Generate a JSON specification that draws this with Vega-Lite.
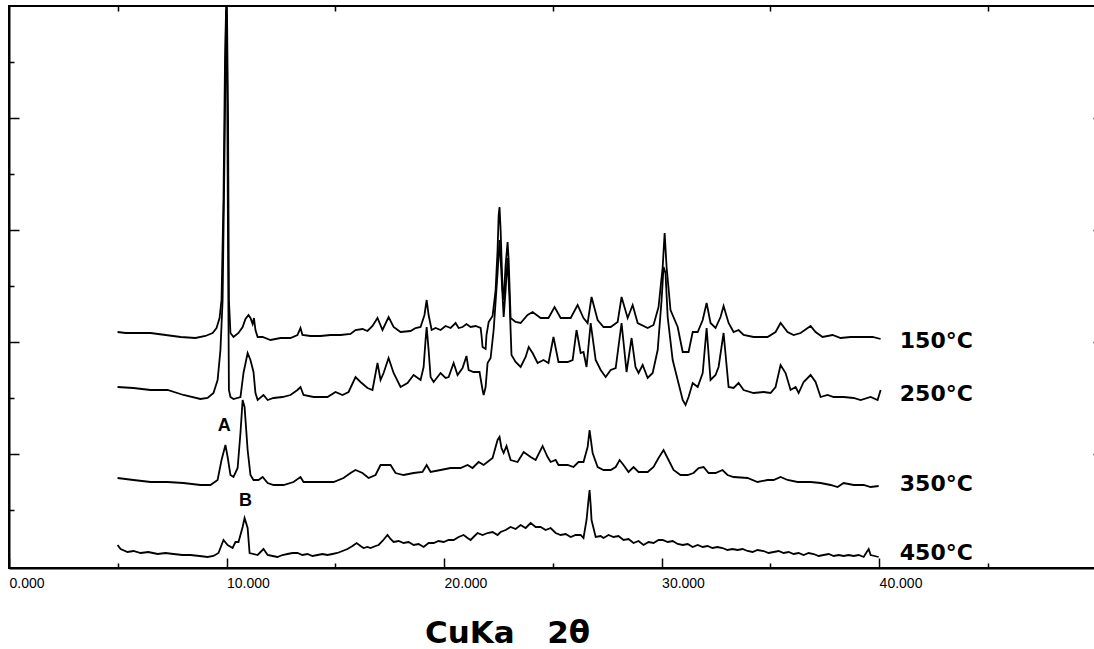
{
"$schema": "https://vega.github.io/schema/vega-lite/v6.json",
"width": 1092, "height": 562,
"autosize": {"type": "none"},
"padding": {"left": 9, "top": 6, "right": 0, "bottom": 81},
"background": "white",
"config": {"view": {"stroke": "black", "strokeWidth": 2}, "axis": {"domainColor": "black", "tickColor": "black", "labelColor": "black", "titleColor": "black", "grid": false}},
"datasets": {
"traces": [
{"temp":"150","two_theta":4.99,"intensity":236},{"temp":"150","two_theta":5.36,"intensity":235},{"temp":"150","two_theta":5.82,"intensity":235},{"temp":"150","two_theta":6.51,"intensity":235},{"temp":"150","two_theta":7.20,"intensity":233},{"temp":"150","two_theta":7.89,"intensity":231},{"temp":"150","two_theta":8.57,"intensity":230},{"temp":"150","two_theta":9.03,"intensity":232},{"temp":"150","two_theta":9.36,"intensity":235},{"temp":"150","two_theta":9.54,"intensity":240},{"temp":"150","two_theta":9.68,"intensity":250},{"temp":"150","two_theta":9.77,"intensity":268},{"temp":"150","two_theta":9.86,"intensity":368},{"temp":"150","two_theta":9.93,"intensity":508},{"temp":"150","two_theta":9.98,"intensity":560},{"temp":"150","two_theta":10.02,"intensity":560},{"temp":"150","two_theta":10.07,"intensity":448},{"temp":"150","two_theta":10.11,"intensity":268},{"temp":"150","two_theta":10.18,"intensity":235},{"temp":"150","two_theta":10.32,"intensity":231},{"temp":"150","two_theta":10.55,"intensity":235},{"temp":"150","two_theta":10.74,"intensity":241},{"temp":"150","two_theta":10.87,"intensity":249},{"temp":"150","two_theta":11.01,"intensity":253},{"temp":"150","two_theta":11.10,"intensity":250},{"temp":"150","two_theta":11.20,"intensity":244},{"temp":"150","two_theta":11.26,"intensity":250},{"temp":"150","two_theta":11.33,"intensity":238},{"temp":"150","two_theta":11.43,"intensity":231},{"temp":"150","two_theta":11.66,"intensity":231},{"temp":"150","two_theta":12.02,"intensity":228},{"temp":"150","two_theta":12.48,"intensity":230},{"temp":"150","two_theta":12.94,"intensity":230},{"temp":"150","two_theta":13.26,"intensity":233},{"temp":"150","two_theta":13.40,"intensity":240},{"temp":"150","two_theta":13.49,"intensity":233},{"temp":"150","two_theta":13.86,"intensity":232},{"temp":"150","two_theta":14.32,"intensity":232},{"temp":"150","two_theta":14.78,"intensity":233},{"temp":"150","two_theta":15.24,"intensity":233},{"temp":"150","two_theta":15.70,"intensity":234},{"temp":"150","two_theta":15.93,"intensity":238},{"temp":"150","two_theta":16.25,"intensity":239},{"temp":"150","two_theta":16.48,"intensity":237},{"temp":"150","two_theta":16.71,"intensity":242},{"temp":"150","two_theta":16.94,"intensity":250},{"temp":"150","two_theta":17.17,"intensity":238},{"temp":"150","two_theta":17.45,"intensity":251},{"temp":"150","two_theta":17.68,"intensity":241},{"temp":"150","two_theta":18.00,"intensity":236},{"temp":"150","two_theta":18.46,"intensity":237},{"temp":"150","two_theta":18.69,"intensity":240},{"temp":"150","two_theta":18.92,"intensity":241},{"temp":"150","two_theta":19.10,"intensity":253},{"temp":"150","two_theta":19.20,"intensity":268},{"temp":"150","two_theta":19.29,"intensity":253},{"temp":"150","two_theta":19.43,"intensity":238},{"temp":"150","two_theta":19.61,"intensity":240},{"temp":"150","two_theta":19.84,"intensity":238},{"temp":"150","two_theta":20.07,"intensity":242},{"temp":"150","two_theta":20.30,"intensity":240},{"temp":"150","two_theta":20.53,"intensity":245},{"temp":"150","two_theta":20.67,"intensity":240},{"temp":"150","two_theta":20.85,"intensity":241},{"temp":"150","two_theta":21.03,"intensity":244},{"temp":"150","two_theta":21.22,"intensity":241},{"temp":"150","two_theta":21.45,"intensity":242},{"temp":"150","two_theta":21.68,"intensity":240},{"temp":"150","two_theta":21.72,"intensity":233},{"temp":"150","two_theta":21.77,"intensity":221},{"temp":"150","two_theta":21.91,"intensity":219},{"temp":"150","two_theta":21.95,"intensity":233},{"temp":"150","two_theta":22.05,"intensity":246},{"temp":"150","two_theta":22.23,"intensity":252},{"temp":"150","two_theta":22.37,"intensity":278},{"temp":"150","two_theta":22.46,"intensity":318},{"temp":"150","two_theta":22.51,"intensity":353},{"temp":"150","two_theta":22.55,"intensity":361},{"temp":"150","two_theta":22.60,"intensity":338},{"temp":"150","two_theta":22.69,"intensity":278},{"temp":"150","two_theta":22.74,"intensity":268},{"temp":"150","two_theta":22.83,"intensity":303},{"temp":"150","two_theta":22.92,"intensity":326},{"temp":"150","two_theta":22.97,"intensity":308},{"temp":"150","two_theta":23.06,"intensity":250},{"temp":"150","two_theta":23.29,"intensity":246},{"temp":"150","two_theta":23.52,"intensity":245},{"temp":"150","two_theta":23.84,"intensity":253},{"temp":"150","two_theta":24.07,"intensity":256},{"temp":"150","two_theta":24.44,"intensity":250},{"temp":"150","two_theta":24.80,"intensity":250},{"temp":"150","two_theta":25.08,"intensity":261},{"temp":"150","two_theta":25.36,"intensity":250},{"temp":"150","two_theta":25.82,"intensity":250},{"temp":"150","two_theta":26.14,"intensity":263},{"temp":"150","two_theta":26.41,"intensity":250},{"temp":"150","two_theta":26.60,"intensity":245},{"temp":"150","two_theta":26.78,"intensity":271},{"temp":"150","two_theta":27.06,"intensity":248},{"temp":"150","two_theta":27.33,"intensity":241},{"temp":"150","two_theta":27.66,"intensity":241},{"temp":"150","two_theta":27.98,"intensity":246},{"temp":"150","two_theta":28.16,"intensity":271},{"temp":"150","two_theta":28.44,"intensity":250},{"temp":"150","two_theta":28.67,"intensity":263},{"temp":"150","two_theta":28.90,"intensity":245},{"temp":"150","two_theta":29.36,"intensity":240},{"temp":"150","two_theta":29.63,"intensity":243},{"temp":"150","two_theta":29.86,"intensity":261},{"temp":"150","two_theta":30.05,"intensity":301},{"temp":"150","two_theta":30.14,"intensity":335},{"temp":"150","two_theta":30.23,"intensity":301},{"temp":"150","two_theta":30.41,"intensity":258},{"temp":"150","two_theta":30.74,"intensity":241},{"temp":"150","two_theta":30.97,"intensity":216},{"temp":"150","two_theta":31.24,"intensity":216},{"temp":"150","two_theta":31.43,"intensity":236},{"temp":"150","two_theta":31.66,"intensity":236},{"temp":"150","two_theta":31.89,"intensity":248},{"temp":"150","two_theta":32.07,"intensity":265},{"temp":"150","two_theta":32.25,"intensity":245},{"temp":"150","two_theta":32.48,"intensity":240},{"temp":"150","two_theta":32.71,"intensity":251},{"temp":"150","two_theta":32.85,"intensity":262},{"temp":"150","two_theta":33.08,"intensity":245},{"temp":"150","two_theta":33.31,"intensity":236},{"temp":"150","two_theta":33.54,"intensity":238},{"temp":"150","two_theta":33.77,"intensity":233},{"temp":"150","two_theta":34.23,"intensity":231},{"temp":"150","two_theta":34.87,"intensity":231},{"temp":"150","two_theta":35.24,"intensity":236},{"temp":"150","two_theta":35.47,"intensity":245},{"temp":"150","two_theta":35.79,"intensity":236},{"temp":"150","two_theta":36.07,"intensity":233},{"temp":"150","two_theta":36.39,"intensity":235},{"temp":"150","two_theta":36.85,"intensity":242},{"temp":"150","two_theta":37.08,"intensity":236},{"temp":"150","two_theta":37.40,"intensity":231},{"temp":"150","two_theta":37.86,"intensity":233},{"temp":"150","two_theta":38.23,"intensity":230},{"temp":"150","two_theta":38.69,"intensity":231},{"temp":"150","two_theta":39.15,"intensity":231},{"temp":"150","two_theta":39.70,"intensity":231},{"temp":"150","two_theta":40.07,"intensity":229},
{"temp":"250","two_theta":4.99,"intensity":181},{"temp":"250","two_theta":5.72,"intensity":180},{"temp":"250","two_theta":6.51,"intensity":178},{"temp":"250","two_theta":7.29,"intensity":178},{"temp":"250","two_theta":8.02,"intensity":173},{"temp":"250","two_theta":8.80,"intensity":169},{"temp":"250","two_theta":9.13,"intensity":170},{"temp":"250","two_theta":9.40,"intensity":175},{"temp":"250","two_theta":9.59,"intensity":188},{"temp":"250","two_theta":9.72,"intensity":218},{"temp":"250","two_theta":9.82,"intensity":268},{"temp":"250","two_theta":9.91,"intensity":418},{"temp":"250","two_theta":9.98,"intensity":558},{"temp":"250","two_theta":10.02,"intensity":528},{"temp":"250","two_theta":10.07,"intensity":318},{"temp":"250","two_theta":10.11,"intensity":178},{"temp":"250","two_theta":10.18,"intensity":171},{"temp":"250","two_theta":10.32,"intensity":169},{"temp":"250","two_theta":10.64,"intensity":171},{"temp":"250","two_theta":10.78,"intensity":195},{"temp":"250","two_theta":10.97,"intensity":215},{"temp":"250","two_theta":11.10,"intensity":208},{"temp":"250","two_theta":11.24,"intensity":196},{"temp":"250","two_theta":11.33,"intensity":175},{"temp":"250","two_theta":11.43,"intensity":168},{"temp":"250","two_theta":11.70,"intensity":173},{"temp":"250","two_theta":11.89,"intensity":168},{"temp":"250","two_theta":12.16,"intensity":170},{"temp":"250","two_theta":12.57,"intensity":171},{"temp":"250","two_theta":12.94,"intensity":173},{"temp":"250","two_theta":13.26,"intensity":178},{"temp":"250","two_theta":13.40,"intensity":181},{"temp":"250","two_theta":13.54,"intensity":173},{"temp":"250","two_theta":14.00,"intensity":171},{"temp":"250","two_theta":14.64,"intensity":171},{"temp":"250","two_theta":15.01,"intensity":176},{"temp":"250","two_theta":15.33,"intensity":173},{"temp":"250","two_theta":15.61,"intensity":176},{"temp":"250","two_theta":15.93,"intensity":191},{"temp":"250","two_theta":16.16,"intensity":186},{"temp":"250","two_theta":16.48,"intensity":180},{"temp":"250","two_theta":16.71,"intensity":178},{"temp":"250","two_theta":16.94,"intensity":205},{"temp":"250","two_theta":17.08,"intensity":188},{"temp":"250","two_theta":17.22,"intensity":195},{"temp":"250","two_theta":17.45,"intensity":210},{"temp":"250","two_theta":17.68,"intensity":195},{"temp":"250","two_theta":18.00,"intensity":181},{"temp":"250","two_theta":18.32,"intensity":185},{"temp":"250","two_theta":18.60,"intensity":193},{"temp":"250","two_theta":18.92,"intensity":188},{"temp":"250","two_theta":19.06,"intensity":201},{"temp":"250","two_theta":19.15,"intensity":228},{"temp":"250","two_theta":19.20,"intensity":241},{"temp":"250","two_theta":19.29,"intensity":218},{"temp":"250","two_theta":19.38,"intensity":191},{"temp":"250","two_theta":19.52,"intensity":186},{"temp":"250","two_theta":19.84,"intensity":195},{"temp":"250","two_theta":20.07,"intensity":190},{"temp":"250","two_theta":20.21,"intensity":191},{"temp":"250","two_theta":20.44,"intensity":205},{"temp":"250","two_theta":20.62,"intensity":193},{"temp":"250","two_theta":20.85,"intensity":200},{"temp":"250","two_theta":21.03,"intensity":212},{"temp":"250","two_theta":21.13,"intensity":198},{"temp":"250","two_theta":21.36,"intensity":196},{"temp":"250","two_theta":21.63,"intensity":196},{"temp":"250","two_theta":21.77,"intensity":178},{"temp":"250","two_theta":21.82,"intensity":173},{"temp":"250","two_theta":21.91,"intensity":181},{"temp":"250","two_theta":22.00,"intensity":205},{"temp":"250","two_theta":22.14,"intensity":210},{"temp":"250","two_theta":22.28,"intensity":238},{"temp":"250","two_theta":22.46,"intensity":295},{"temp":"250","two_theta":22.55,"intensity":328},{"temp":"250","two_theta":22.64,"intensity":293},{"temp":"250","two_theta":22.74,"intensity":251},{"temp":"250","two_theta":22.83,"intensity":278},{"temp":"250","two_theta":22.92,"intensity":310},{"temp":"250","two_theta":23.01,"intensity":268},{"temp":"250","two_theta":23.10,"intensity":213},{"temp":"250","two_theta":23.29,"intensity":206},{"temp":"250","two_theta":23.52,"intensity":201},{"temp":"250","two_theta":23.75,"intensity":211},{"temp":"250","two_theta":23.89,"intensity":221},{"temp":"250","two_theta":24.07,"intensity":215},{"temp":"250","two_theta":24.30,"intensity":205},{"temp":"250","two_theta":24.57,"intensity":208},{"temp":"250","two_theta":24.80,"intensity":205},{"temp":"250","two_theta":25.03,"intensity":231},{"temp":"250","two_theta":25.26,"intensity":206},{"temp":"250","two_theta":25.68,"intensity":206},{"temp":"250","two_theta":25.91,"intensity":208},{"temp":"250","two_theta":26.09,"intensity":238},{"temp":"250","two_theta":26.28,"intensity":215},{"temp":"250","two_theta":26.41,"intensity":216},{"temp":"250","two_theta":26.55,"intensity":201},{"temp":"250","two_theta":26.74,"intensity":245},{"temp":"250","two_theta":26.97,"intensity":208},{"temp":"250","two_theta":27.20,"intensity":198},{"temp":"250","two_theta":27.43,"intensity":191},{"temp":"250","two_theta":27.66,"intensity":198},{"temp":"250","two_theta":27.89,"intensity":200},{"temp":"250","two_theta":28.16,"intensity":245},{"temp":"250","two_theta":28.39,"intensity":196},{"temp":"250","two_theta":28.62,"intensity":230},{"temp":"250","two_theta":28.80,"intensity":201},{"temp":"250","two_theta":28.94,"intensity":195},{"temp":"250","two_theta":29.13,"intensity":203},{"temp":"250","two_theta":29.36,"intensity":190},{"temp":"250","two_theta":29.59,"intensity":195},{"temp":"250","two_theta":29.82,"intensity":218},{"temp":"250","two_theta":30.00,"intensity":268},{"temp":"250","two_theta":30.09,"intensity":301},{"temp":"250","two_theta":30.18,"intensity":295},{"temp":"250","two_theta":30.28,"intensity":251},{"temp":"250","two_theta":30.51,"intensity":208},{"temp":"250","two_theta":30.74,"intensity":188},{"temp":"250","two_theta":30.97,"intensity":168},{"temp":"250","two_theta":31.10,"intensity":163},{"temp":"250","two_theta":31.24,"intensity":171},{"temp":"250","two_theta":31.43,"intensity":185},{"temp":"250","two_theta":31.66,"intensity":181},{"temp":"250","two_theta":31.89,"intensity":195},{"temp":"250","two_theta":32.07,"intensity":240},{"temp":"250","two_theta":32.25,"intensity":188},{"temp":"250","two_theta":32.48,"intensity":193},{"temp":"250","two_theta":32.62,"intensity":201},{"temp":"250","two_theta":32.85,"intensity":235},{"temp":"250","two_theta":33.08,"intensity":181},{"temp":"250","two_theta":33.31,"intensity":180},{"temp":"250","two_theta":33.54,"intensity":185},{"temp":"250","two_theta":33.77,"intensity":178},{"temp":"250","two_theta":34.23,"intensity":175},{"temp":"250","two_theta":34.69,"intensity":176},{"temp":"250","two_theta":35.01,"intensity":175},{"temp":"250","two_theta":35.24,"intensity":181},{"temp":"250","two_theta":35.47,"intensity":203},{"temp":"250","two_theta":35.70,"intensity":195},{"temp":"250","two_theta":35.93,"intensity":178},{"temp":"250","two_theta":36.16,"intensity":181},{"temp":"250","two_theta":36.30,"intensity":175},{"temp":"250","two_theta":36.53,"intensity":186},{"temp":"250","two_theta":36.85,"intensity":193},{"temp":"250","two_theta":37.08,"intensity":186},{"temp":"250","two_theta":37.31,"intensity":171},{"temp":"250","two_theta":37.63,"intensity":173},{"temp":"250","two_theta":37.91,"intensity":171},{"temp":"250","two_theta":38.37,"intensity":171},{"temp":"250","two_theta":38.83,"intensity":170},{"temp":"250","two_theta":39.15,"intensity":168},{"temp":"250","two_theta":39.61,"intensity":171},{"temp":"250","two_theta":39.93,"intensity":168},{"temp":"250","two_theta":40.07,"intensity":178},
{"temp":"350","two_theta":4.99,"intensity":90},{"temp":"350","two_theta":5.72,"intensity":88},{"temp":"350","two_theta":6.51,"intensity":86},{"temp":"350","two_theta":7.29,"intensity":86},{"temp":"350","two_theta":8.02,"intensity":85},{"temp":"350","two_theta":8.80,"intensity":83},{"temp":"350","two_theta":9.26,"intensity":83},{"temp":"350","two_theta":9.59,"intensity":88},{"temp":"350","two_theta":9.77,"intensity":108},{"temp":"350","two_theta":9.95,"intensity":123},{"temp":"350","two_theta":10.05,"intensity":111},{"temp":"350","two_theta":10.18,"intensity":93},{"temp":"350","two_theta":10.32,"intensity":91},{"temp":"350","two_theta":10.51,"intensity":100},{"temp":"350","two_theta":10.64,"intensity":135},{"temp":"350","two_theta":10.74,"intensity":168},{"temp":"350","two_theta":10.83,"intensity":161},{"temp":"350","two_theta":10.97,"intensity":118},{"temp":"350","two_theta":11.10,"intensity":93},{"temp":"350","two_theta":11.24,"intensity":88},{"temp":"350","two_theta":11.47,"intensity":88},{"temp":"350","two_theta":11.66,"intensity":91},{"temp":"350","two_theta":11.89,"intensity":85},{"temp":"350","two_theta":12.16,"intensity":83},{"temp":"350","two_theta":12.62,"intensity":83},{"temp":"350","two_theta":13.08,"intensity":86},{"temp":"350","two_theta":13.40,"intensity":91},{"temp":"350","two_theta":13.54,"intensity":86},{"temp":"350","two_theta":14.18,"intensity":86},{"temp":"350","two_theta":14.92,"intensity":86},{"temp":"350","two_theta":15.38,"intensity":90},{"temp":"350","two_theta":15.70,"intensity":95},{"temp":"350","two_theta":15.93,"intensity":98},{"temp":"350","two_theta":16.25,"intensity":95},{"temp":"350","two_theta":16.53,"intensity":90},{"temp":"350","two_theta":16.85,"intensity":93},{"temp":"350","two_theta":17.08,"intensity":103},{"temp":"350","two_theta":17.54,"intensity":103},{"temp":"350","two_theta":17.77,"intensity":95},{"temp":"350","two_theta":18.14,"intensity":93},{"temp":"350","two_theta":18.60,"intensity":95},{"temp":"350","two_theta":19.01,"intensity":96},{"temp":"350","two_theta":19.20,"intensity":103},{"temp":"350","two_theta":19.38,"intensity":96},{"temp":"350","two_theta":19.84,"intensity":98},{"temp":"350","two_theta":20.30,"intensity":100},{"temp":"350","two_theta":20.76,"intensity":100},{"temp":"350","two_theta":21.08,"intensity":103},{"temp":"350","two_theta":21.31,"intensity":100},{"temp":"350","two_theta":21.59,"intensity":106},{"temp":"350","two_theta":21.82,"intensity":103},{"temp":"350","two_theta":22.23,"intensity":110},{"temp":"350","two_theta":22.46,"intensity":128},{"temp":"350","two_theta":22.55,"intensity":131},{"temp":"350","two_theta":22.64,"intensity":120},{"temp":"350","two_theta":22.74,"intensity":115},{"temp":"350","two_theta":22.87,"intensity":122},{"temp":"350","two_theta":23.06,"intensity":108},{"temp":"350","two_theta":23.38,"intensity":106},{"temp":"350","two_theta":23.66,"intensity":116},{"temp":"350","two_theta":23.98,"intensity":111},{"temp":"350","two_theta":24.21,"intensity":108},{"temp":"350","two_theta":24.53,"intensity":122},{"temp":"350","two_theta":24.76,"intensity":111},{"temp":"350","two_theta":24.90,"intensity":106},{"temp":"350","two_theta":25.13,"intensity":108},{"temp":"350","two_theta":25.26,"intensity":103},{"temp":"350","two_theta":25.68,"intensity":103},{"temp":"350","two_theta":25.95,"intensity":101},{"temp":"350","two_theta":26.18,"intensity":106},{"temp":"350","two_theta":26.41,"intensity":106},{"temp":"350","two_theta":26.60,"intensity":121},{"temp":"350","two_theta":26.69,"intensity":138},{"temp":"350","two_theta":26.83,"intensity":115},{"temp":"350","two_theta":27.06,"intensity":101},{"temp":"350","two_theta":27.33,"intensity":98},{"temp":"350","two_theta":27.66,"intensity":98},{"temp":"350","two_theta":27.89,"intensity":101},{"temp":"350","two_theta":28.07,"intensity":108},{"temp":"350","two_theta":28.25,"intensity":103},{"temp":"350","two_theta":28.48,"intensity":96},{"temp":"350","two_theta":28.71,"intensity":101},{"temp":"350","two_theta":28.94,"intensity":96},{"temp":"350","two_theta":29.36,"intensity":96},{"temp":"350","two_theta":29.63,"intensity":101},{"temp":"350","two_theta":29.86,"intensity":110},{"temp":"350","two_theta":30.09,"intensity":118},{"temp":"350","two_theta":30.32,"intensity":108},{"temp":"350","two_theta":30.55,"intensity":98},{"temp":"350","two_theta":30.87,"intensity":93},{"temp":"350","two_theta":31.20,"intensity":93},{"temp":"350","two_theta":31.47,"intensity":95},{"temp":"350","two_theta":31.70,"intensity":100},{"temp":"350","two_theta":31.93,"intensity":101},{"temp":"350","two_theta":32.16,"intensity":95},{"temp":"350","two_theta":32.48,"intensity":95},{"temp":"350","two_theta":32.80,"intensity":98},{"temp":"350","two_theta":33.03,"intensity":93},{"temp":"350","two_theta":33.31,"intensity":91},{"temp":"350","two_theta":33.95,"intensity":90},{"temp":"350","two_theta":34.41,"intensity":86},{"temp":"350","two_theta":34.87,"intensity":88},{"temp":"350","two_theta":35.15,"intensity":88},{"temp":"350","two_theta":35.47,"intensity":91},{"temp":"350","two_theta":35.79,"intensity":88},{"temp":"350","two_theta":36.25,"intensity":86},{"temp":"350","two_theta":36.85,"intensity":86},{"temp":"350","two_theta":37.31,"intensity":85},{"temp":"350","two_theta":37.77,"intensity":83},{"temp":"350","two_theta":38.09,"intensity":81},{"temp":"350","two_theta":38.37,"intensity":85},{"temp":"350","two_theta":38.83,"intensity":83},{"temp":"350","two_theta":39.29,"intensity":83},{"temp":"350","two_theta":39.61,"intensity":81},{"temp":"350","two_theta":39.98,"intensity":82},
{"temp":"450","two_theta":4.99,"intensity":23},{"temp":"450","two_theta":5.13,"intensity":19},{"temp":"450","two_theta":5.45,"intensity":16},{"temp":"450","two_theta":5.72,"intensity":17},{"temp":"450","two_theta":6.05,"intensity":15},{"temp":"450","two_theta":6.41,"intensity":16},{"temp":"450","two_theta":6.83,"intensity":14},{"temp":"450","two_theta":7.20,"intensity":15},{"temp":"450","two_theta":7.56,"intensity":14},{"temp":"450","two_theta":7.98,"intensity":13},{"temp":"450","two_theta":8.34,"intensity":13},{"temp":"450","two_theta":8.76,"intensity":12},{"temp":"450","two_theta":9.13,"intensity":11},{"temp":"450","two_theta":9.40,"intensity":12},{"temp":"450","two_theta":9.63,"intensity":15},{"temp":"450","two_theta":9.86,"intensity":28},{"temp":"450","two_theta":10.05,"intensity":23},{"temp":"450","two_theta":10.28,"intensity":20},{"temp":"450","two_theta":10.41,"intensity":26},{"temp":"450","two_theta":10.55,"intensity":26},{"temp":"450","two_theta":10.74,"intensity":41},{"temp":"450","two_theta":10.83,"intensity":50},{"temp":"450","two_theta":10.97,"intensity":40},{"temp":"450","two_theta":11.06,"intensity":15},{"temp":"450","two_theta":11.43,"intensity":13},{"temp":"450","two_theta":11.70,"intensity":19},{"temp":"450","two_theta":11.89,"intensity":13},{"temp":"450","two_theta":12.12,"intensity":12},{"temp":"450","two_theta":12.34,"intensity":11},{"temp":"450","two_theta":12.57,"intensity":13},{"temp":"450","two_theta":12.80,"intensity":14},{"temp":"450","two_theta":13.03,"intensity":15},{"temp":"450","two_theta":13.26,"intensity":15},{"temp":"450","two_theta":13.49,"intensity":13},{"temp":"450","two_theta":13.72,"intensity":14},{"temp":"450","two_theta":13.95,"intensity":12},{"temp":"450","two_theta":14.18,"intensity":13},{"temp":"450","two_theta":14.41,"intensity":14},{"temp":"450","two_theta":14.64,"intensity":13},{"temp":"450","two_theta":14.87,"intensity":14},{"temp":"450","two_theta":15.10,"intensity":15},{"temp":"450","two_theta":15.33,"intensity":17},{"temp":"450","two_theta":15.56,"intensity":19},{"temp":"450","two_theta":15.79,"intensity":22},{"temp":"450","two_theta":15.98,"intensity":25},{"temp":"450","two_theta":16.16,"intensity":22},{"temp":"450","two_theta":16.30,"intensity":20},{"temp":"450","two_theta":16.48,"intensity":21},{"temp":"450","two_theta":16.62,"intensity":20},{"temp":"450","two_theta":16.85,"intensity":22},{"temp":"450","two_theta":16.99,"intensity":23},{"temp":"450","two_theta":17.17,"intensity":27},{"temp":"450","two_theta":17.40,"intensity":33},{"temp":"450","two_theta":17.54,"intensity":29},{"temp":"450","two_theta":17.68,"intensity":26},{"temp":"450","two_theta":17.91,"intensity":27},{"temp":"450","two_theta":18.14,"intensity":25},{"temp":"450","two_theta":18.37,"intensity":26},{"temp":"450","two_theta":18.60,"intensity":23},{"temp":"450","two_theta":18.83,"intensity":24},{"temp":"450","two_theta":19.06,"intensity":21},{"temp":"450","two_theta":19.29,"intensity":25},{"temp":"450","two_theta":19.52,"intensity":25},{"temp":"450","two_theta":19.75,"intensity":27},{"temp":"450","two_theta":19.98,"intensity":26},{"temp":"450","two_theta":20.21,"intensity":28},{"temp":"450","two_theta":20.44,"intensity":28},{"temp":"450","two_theta":20.67,"intensity":31},{"temp":"450","two_theta":20.90,"intensity":33},{"temp":"450","two_theta":21.08,"intensity":30},{"temp":"450","two_theta":21.22,"intensity":28},{"temp":"450","two_theta":21.40,"intensity":32},{"temp":"450","two_theta":21.54,"intensity":35},{"temp":"450","two_theta":21.77,"intensity":33},{"temp":"450","two_theta":22.00,"intensity":35},{"temp":"450","two_theta":22.23,"intensity":36},{"temp":"450","two_theta":22.46,"intensity":33},{"temp":"450","two_theta":22.60,"intensity":36},{"temp":"450","two_theta":22.83,"intensity":38},{"temp":"450","two_theta":23.06,"intensity":41},{"temp":"450","two_theta":23.29,"intensity":39},{"temp":"450","two_theta":23.52,"intensity":43},{"temp":"450","two_theta":23.75,"intensity":40},{"temp":"450","two_theta":23.98,"intensity":45},{"temp":"450","two_theta":24.21,"intensity":41},{"temp":"450","two_theta":24.44,"intensity":41},{"temp":"450","two_theta":24.67,"intensity":38},{"temp":"450","two_theta":24.90,"intensity":40},{"temp":"450","two_theta":25.13,"intensity":35},{"temp":"450","two_theta":25.36,"intensity":33},{"temp":"450","two_theta":25.59,"intensity":34},{"temp":"450","two_theta":25.82,"intensity":31},{"temp":"450","two_theta":26.05,"intensity":33},{"temp":"450","two_theta":26.28,"intensity":33},{"temp":"450","two_theta":26.41,"intensity":30},{"temp":"450","two_theta":26.55,"intensity":48},{"temp":"450","two_theta":26.64,"intensity":68},{"temp":"450","two_theta":26.69,"intensity":78},{"temp":"450","two_theta":26.74,"intensity":63},{"temp":"450","two_theta":26.78,"intensity":48},{"temp":"450","two_theta":26.97,"intensity":31},{"temp":"450","two_theta":27.20,"intensity":32},{"temp":"450","two_theta":27.33,"intensity":30},{"temp":"450","two_theta":27.56,"intensity":33},{"temp":"450","two_theta":27.79,"intensity":31},{"temp":"450","two_theta":28.02,"intensity":32},{"temp":"450","two_theta":28.25,"intensity":28},{"temp":"450","two_theta":28.48,"intensity":29},{"temp":"450","two_theta":28.71,"intensity":25},{"temp":"450","two_theta":28.94,"intensity":27},{"temp":"450","two_theta":29.17,"intensity":23},{"temp":"450","two_theta":29.40,"intensity":26},{"temp":"450","two_theta":29.63,"intensity":25},{"temp":"450","two_theta":29.86,"intensity":28},{"temp":"450","two_theta":30.05,"intensity":28},{"temp":"450","two_theta":30.28,"intensity":26},{"temp":"450","two_theta":30.51,"intensity":27},{"temp":"450","two_theta":30.74,"intensity":24},{"temp":"450","two_theta":30.97,"intensity":23},{"temp":"450","two_theta":31.20,"intensity":24},{"temp":"450","two_theta":31.43,"intensity":21},{"temp":"450","two_theta":31.66,"intensity":23},{"temp":"450","two_theta":31.89,"intensity":21},{"temp":"450","two_theta":32.11,"intensity":22},{"temp":"450","two_theta":32.34,"intensity":20},{"temp":"450","two_theta":32.57,"intensity":21},{"temp":"450","two_theta":32.80,"intensity":20},{"temp":"450","two_theta":33.03,"intensity":18},{"temp":"450","two_theta":33.26,"intensity":19},{"temp":"450","two_theta":33.49,"intensity":18},{"temp":"450","two_theta":33.72,"intensity":19},{"temp":"450","two_theta":33.95,"intensity":17},{"temp":"450","two_theta":34.18,"intensity":16},{"temp":"450","two_theta":34.41,"intensity":18},{"temp":"450","two_theta":34.69,"intensity":17},{"temp":"450","two_theta":34.92,"intensity":15},{"temp":"450","two_theta":35.15,"intensity":16},{"temp":"450","two_theta":35.38,"intensity":17},{"temp":"450","two_theta":35.61,"intensity":15},{"temp":"450","two_theta":35.84,"intensity":16},{"temp":"450","two_theta":36.07,"intensity":14},{"temp":"450","two_theta":36.30,"intensity":15},{"temp":"450","two_theta":36.53,"intensity":13},{"temp":"450","two_theta":36.76,"intensity":15},{"temp":"450","two_theta":36.99,"intensity":14},{"temp":"450","two_theta":37.22,"intensity":12},{"temp":"450","two_theta":37.45,"intensity":13},{"temp":"450","two_theta":37.68,"intensity":14},{"temp":"450","two_theta":37.91,"intensity":12},{"temp":"450","two_theta":38.14,"intensity":13},{"temp":"450","two_theta":38.37,"intensity":12},{"temp":"450","two_theta":38.60,"intensity":13},{"temp":"450","two_theta":38.83,"intensity":12},{"temp":"450","two_theta":39.06,"intensity":13},{"temp":"450","two_theta":39.29,"intensity":11},{"temp":"450","two_theta":39.43,"intensity":16},{"temp":"450","two_theta":39.52,"intensity":19},{"temp":"450","two_theta":39.61,"intensity":13},{"temp":"450","two_theta":39.79,"intensity":12},{"temp":"450","two_theta":39.98,"intensity":11}
],
"labels": [
{"label":"150°C","two_theta":40.95,"intensity":227},
{"label":"250°C","two_theta":40.95,"intensity":174},
{"label":"350°C","two_theta":40.95,"intensity":84},
{"label":"450°C","two_theta":40.95,"intensity":15}
],
"peaks": [
{"label":"A","two_theta":9.89,"intensity":142},
{"label":"B","two_theta":10.87,"intensity":67}
]
},
"layer": [
{
"data": {"name": "traces"},
"mark": {"type": "line", "color": "black", "strokeWidth": 1.8},
"encoding": {
"x": {"field": "two_theta", "type": "quantitative", "scale": {"domain": [0, 50.2], "nice": false, "zero": false},
"axis": {"orient": "bottom", "values": [0,5,10,15,20,25,30,35,40,45], "labelExpr": "datum.value % 10 === 0 ? format(datum.value, '.3f') : ''", "labelAlign": "left", "labelBaseline": "middle", "labelFont": "Liberation Sans", "labelFontSize": 14, "labelPadding": 25, "labelFlush": false, "labelOverlap": false, "tickSize": {"condition": {"test": "datum.value % 10 === 0", "value": -10}, "value": -5}, "tickWidth": 1.5, "domainWidth": 2, "title": "CuKa\u00a0\u00a0\u00a02θ", "titleFont": "DejaVu Sans", "titleFontWeight": "bold", "titleFontSize": 31, "titleX": 498, "titleY": 65, "titleAlign": "center", "titleBaseline": "middle"}},
"y": {"field": "intensity", "type": "quantitative", "scale": {"domain": [0, 562], "nice": false, "zero": false},
"axis": {"orient": "left", "values": [58,114,170,226,282,338,394,450,506], "labels": false, "tickSize": {"condition": {"test": "(datum.value - 2) % 112 === 0", "value": -10}, "value": -5}, "tickWidth": 1.5, "domainWidth": 2, "title": null}},
"detail": {"field": "temp", "type": "nominal"},
"order": {"field": "two_theta", "type": "quantitative"}
}
},
{
"data": {"name": "labels"},
"mark": {"type": "text", "align": "left", "baseline": "middle", "font": "DejaVu Sans", "fontWeight": "bold", "fontSize": 22, "color": "black"},
"encoding": {
"x": {"field": "two_theta", "type": "quantitative", "scale": {"domain": [0, 50.2], "nice": false, "zero": false},
"axis": {"orient": "top", "values": [5,15,25,35,45], "labels": false, "tickSize": -5, "tickWidth": 1.5, "domain": false, "title": null}},
"y": {"field": "intensity", "type": "quantitative", "scale": {"domain": [0, 562], "nice": false, "zero": false},
"axis": {"orient": "right", "values": [58,114,170,226,282,338,394,450,506], "labels": false, "tickSize": {"condition": {"test": "(datum.value - 2) % 112 === 0", "value": -8}, "value": -4}, "tickWidth": 1.5, "domain": false, "title": null}},
"text": {"field": "label", "type": "nominal"}
}
},
{
"data": {"name": "peaks"},
"mark": {"type": "text", "align": "center", "baseline": "middle", "font": "Liberation Sans", "fontWeight": "bold", "fontSize": 18, "color": "black"},
"encoding": {
"x": {"field": "two_theta", "type": "quantitative", "scale": {"domain": [0, 50.2], "nice": false, "zero": false}, "axis": null},
"y": {"field": "intensity", "type": "quantitative", "scale": {"domain": [0, 562], "nice": false, "zero": false}, "axis": null},
"text": {"field": "label", "type": "nominal"}
}
}
],
"resolve": {"axis": {"x": "independent", "y": "independent"}}
}
